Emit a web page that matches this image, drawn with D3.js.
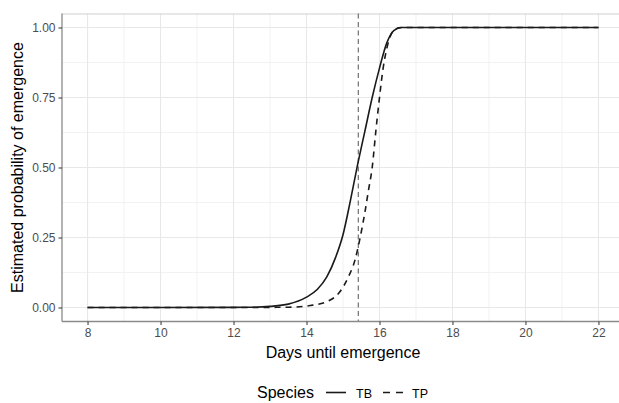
<!DOCTYPE html>
<meta charset="utf-8">
<style>
  body { margin: 0; background: #fff; }
  text { font-family: "Liberation Sans", Arial, sans-serif; }
  .grid-major { stroke: #e8e8e8; stroke-width: 1.1px; }
  .grid-minor { stroke: #efefef; stroke-width: 0.8px; }
  .curve { fill: none; stroke: #1a1a1a; stroke-width: 1.6px; }
</style>
<body>
<div id="chart"></div>
<script src="https://d3js.org/d3.v7.min.js"></script>
<script>
// values
var tbDays = [8, 10, 12, 12.5, 13, 13.5, 14, 14.3, 14.56, 14.8, 15.0, 15.2, 15.4, 15.6, 15.8, 16.0, 16.2, 16.4, 16.6, 18, 20, 22];
var tbProb = [0, 0, 0.0005, 0.001, 0.004, 0.012, 0.037, 0.065, 0.11, 0.18, 0.26, 0.38, 0.51, 0.63, 0.75, 0.855, 0.945, 0.99, 1, 1, 1, 1];

var tpDays = [8, 10, 12, 13.5, 14.1, 14.56, 14.92, 15.15, 15.33, 15.47, 15.6, 15.7, 15.8, 15.9, 16.0, 16.1, 16.2, 16.3, 16.45, 16.6, 18, 20, 22];
var tpProb = [0, 0, 0, 0.001, 0.007, 0.021, 0.057, 0.11, 0.17, 0.25, 0.34, 0.42, 0.5, 0.63, 0.75, 0.855, 0.925, 0.97, 0.995, 1, 1, 1, 1];

var xTicks = [8, 10, 12, 14, 16, 18, 20, 22];
var yTicks = [0, 0.25, 0.5, 0.75, 1];
var yTickLabels = ["0.00", "0.25", "0.50", "0.75", "1.00"];
var vlineDay = 15.42;
var species = ["TB", "TP"];

var W = 619, H = 403;
var margin = { top: 13.5, right: -5, bottom: 81.5, left: 62 };
var width = W - margin.left - margin.right,
    height = H - margin.top - margin.bottom;

var x = d3.scaleLinear().domain([7.3, 22.7]).range([0, width]);
var y = d3.scaleLinear().domain([-0.05, 1.05]).range([height, 0]);

var svg = d3.select("#chart").append("svg")
  .attr("width", W).attr("height", H);

var g = svg.append("g")
  .attr("transform", "translate(" + margin.left + "," + margin.top + ")");

// minor grid
var xMinor = d3.range(9, 23, 2);
var yMinor = [0.125, 0.375, 0.625, 0.875];
g.selectAll(".xminor").data(xMinor).enter().append("line")
  .attr("class", "grid-minor")
  .attr("x1", d => x(d)).attr("x2", d => x(d))
  .attr("y1", 0).attr("y2", height);
g.selectAll(".yminor").data(yMinor).enter().append("line")
  .attr("class", "grid-minor")
  .attr("x1", 0).attr("x2", width)
  .attr("y1", d => y(d)).attr("y2", d => y(d));

// major grid
g.selectAll(".xmajor").data(xTicks).enter().append("line")
  .attr("class", "grid-major")
  .attr("x1", d => x(d)).attr("x2", d => x(d))
  .attr("y1", 0).attr("y2", height);
g.selectAll(".ymajor").data(yTicks).enter().append("line")
  .attr("class", "grid-major")
  .attr("x1", 0).attr("x2", width)
  .attr("y1", d => y(d)).attr("y2", d => y(d));

// top border
g.append("line")
  .attr("x1", 0).attr("x2", width).attr("y1", 0.5).attr("y2", 0.5)
  .attr("stroke", "#cfcfcf").attr("stroke-width", 1);

// vertical reference line
g.append("line")
  .attr("x1", x(vlineDay)).attr("x2", x(vlineDay))
  .attr("y1", 0).attr("y2", height)
  .attr("stroke", "#7a7a7a").attr("stroke-width", 1.3)
  .attr("stroke-dasharray", "5,3.5");

var line = d3.line()
  .curve(d3.curveMonotoneX)
  .x(d => x(d[0]))
  .y(d => y(d[1]));

g.append("path")
  .datum(tbDays.map((d, i) => [d, tbProb[i]]))
  .attr("class", "curve")
  .attr("d", line);

g.append("path")
  .datum(tpDays.map((d, i) => [d, tpProb[i]]))
  .attr("class", "curve")
  .attr("stroke-dasharray", "6,5")
  .attr("d", line);

// axes
var xAxis = g.append("g")
  .attr("transform", "translate(0," + height + ")")
  .call(d3.axisBottom(x).tickValues(xTicks).tickSize(3.5).tickPadding(3));
var yAxis = g.append("g")
  .call(d3.axisLeft(y).tickValues(yTicks).tickFormat((d, i) => yTickLabels[i]).tickSize(3.5).tickPadding(3));

[xAxis, yAxis].forEach(function (a) {
  a.select(".domain").attr("stroke", "#8a8a8a").attr("stroke-width", 1.3);
  a.selectAll(".tick line").attr("stroke", "#333").attr("stroke-width", 1);
  a.selectAll(".tick text").attr("fill", "#4d4d4d").style("font-size", "12px")
    .style("font-family", "'Liberation Sans', Arial, sans-serif");
});
xAxis.select(".domain").attr("d", "M0,0H" + width);
yAxis.select(".domain").attr("d", "M0," + height + "V0");

// axis titles
svg.append("text")
  .attr("x", margin.left + x(15))
  .attr("y", 358)
  .attr("text-anchor", "middle")
  .style("font-size", "16px")
  .attr("fill", "#000")
  .text("Days until emergence");

svg.append("text")
  .attr("transform", "translate(23," + (margin.top + height / 2) + ") rotate(-90)")
  .attr("text-anchor", "middle")
  .style("font-size", "16px")
  .attr("fill", "#000")
  .text("Estimated probability of emergence");

// legend
var lg = svg.append("g").attr("transform", "translate(0,398)");
lg.append("text").attr("x", 257).attr("y", 0)
  .style("font-size", "16px").text("Species");
var keyX = [326, 383];
var labelX = [356, 412];
species.forEach(function (s, i) {
  lg.append("line")
    .attr("x1", keyX[i]).attr("x2", keyX[i] + 20)
    .attr("y1", -5.5).attr("y2", -5.5)
    .attr("stroke", "#1a1a1a").attr("stroke-width", 1.6)
    .attr("stroke-dasharray", i === 1 ? "7,6" : null);
  lg.append("text").attr("x", labelX[i]).attr("y", 0)
    .style("font-size", "12.5px").text(s);
});
</script>
</body>
